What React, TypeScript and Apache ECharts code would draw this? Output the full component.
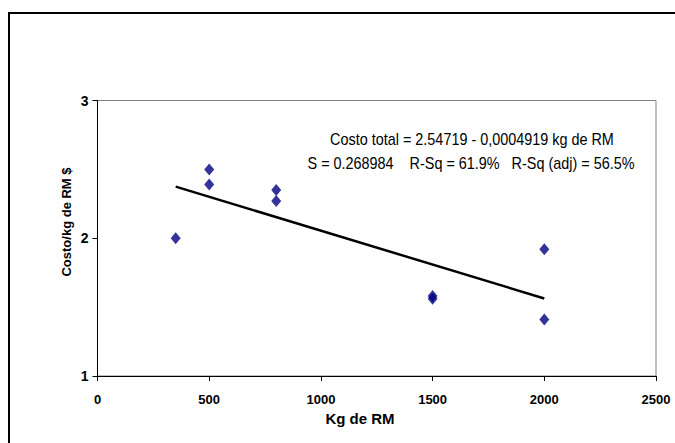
import React, { useEffect, useRef } from "react";
import * as echarts from "echarts";

const kgRM = [350, 500, 500, 800, 800, 1500, 1500, 2000, 2000];
const costo = [2.0, 2.5, 2.39, 2.35, 2.27, 1.58, 1.56, 1.92, 1.41];
const fitX = [350, 2000];
const fitY = [2.375, 1.563];
const xTicks = { min: 0, max: 2500, interval: 500 };
const yTicks = { min: 1, max: 3, interval: 1 };
const eqLine1 = "Costo total = 2.54719 - 0,0004919 kg de RM";
const eqLine2 = "S = 0.268984    R-Sq = 61.9%   R-Sq (adj) = 56.5%";
const xName = "Kg de RM";
const yName = "Costo/kg de RM $";

const FONT = "'Liberation Sans', Arial, sans-serif";

export default function App() {
  const ref = useRef<HTMLDivElement>(null);
  useEffect(() => {
    if (!ref.current) return;
    const chart = echarts.init(ref.current, null, { renderer: "svg" });
    chart.setOption({
      animation: false,
      backgroundColor: "#ffffff",
      grid: {
        left: 97.5,
        right: 19,
        top: 100.5,
        bottom: 67,
        show: true,
        borderColor: "#808080",
        borderWidth: 1,
        containLabel: false,
      },
      xAxis: {
        type: "value",
        min: xTicks.min,
        max: xTicks.max,
        interval: xTicks.interval,
        splitLine: { show: false },
        axisLine: { show: true, lineStyle: { color: "#000", width: 1 } },
        axisTick: { show: true, inside: false, length: 5, lineStyle: { color: "#000" } },
        axisLabel: {
          color: "#000",
          fontFamily: FONT,
          fontWeight: "bold",
          fontSize: 13,
          margin: 17,
          formatter: (v: number) => String(v),
        },
      },
      yAxis: {
        type: "value",
        min: yTicks.min,
        max: yTicks.max,
        interval: yTicks.interval,
        splitLine: { show: false },
        axisLine: { show: true, lineStyle: { color: "#000", width: 1 } },
        axisTick: { show: true, inside: false, length: 5, lineStyle: { color: "#000" } },
        axisLabel: {
          color: "#000",
          fontFamily: FONT,
          fontWeight: "bold",
          fontSize: 14,
          margin: 9,
        },
      },
      series: [
        {
          type: "line",
          data: fitX.map((x, i) => [x, fitY[i]]),
          symbol: "none",
          lineStyle: { color: "#000", width: 2.5 },
          z: 2,
        },
        {
          type: "scatter",
          data: kgRM.map((x, i) => [x, costo[i]]),
          symbol: "diamond",
          symbolSize: [10, 12],
          itemStyle: { color: "#000080" },
          z: 3,
        },
      ],
      graphic: [
        {
          type: "rect",
          shape: { x: 9, y: 13, width: 700, height: 500 },
          style: { fill: "none", stroke: "#000", lineWidth: 2 },
          silent: true,
        },
        {
          type: "text",
          x: 472,
          y: 139,
          scaleX: 0.9,
          style: {
            text: eqLine1,
            fontFamily: FONT,
            fontSize: 16,
            fill: "#000",
            align: "center",
            verticalAlign: "middle",
          },
        },
        {
          type: "text",
          x: 471,
          y: 163,
          scaleX: 0.9,
          style: {
            text: eqLine2,
            fontFamily: FONT,
            fontSize: 16,
            fill: "#000",
            align: "center",
            verticalAlign: "middle",
          },
        },
        {
          type: "text",
          x: 360,
          y: 418,
          style: {
            text: xName,
            fontFamily: FONT,
            fontWeight: "bold",
            fontSize: 15,
            fill: "#000",
            align: "center",
            verticalAlign: "middle",
          },
        },
        {
          type: "text",
          x: 66,
          y: 222,
          rotation: Math.PI / 2,
          style: {
            text: yName,
            fontFamily: FONT,
            fontWeight: "bold",
            fontSize: 13,
            fill: "#000",
            align: "center",
            verticalAlign: "middle",
          },
        },
      ],
    });
    return () => chart.dispose();
  }, []);
  return (
    <div
      ref={ref}
      style={{ position: "fixed", left: 0, top: 0, width: 675, height: 443 }}
    />
  );
}
